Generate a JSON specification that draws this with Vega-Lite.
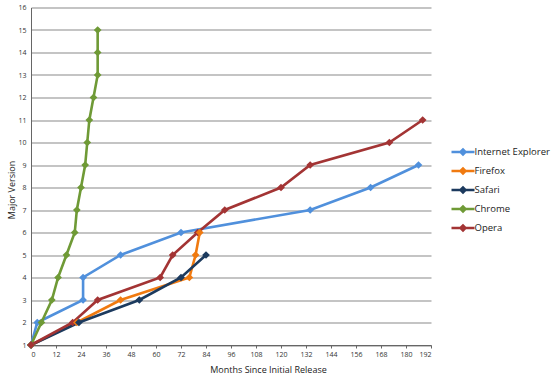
{
  "$schema": "https://vega.github.io/schema/vega-lite/v6.json",
  "width": 400,
  "height": 337.5,
  "autosize": {"type": "none"},
  "padding": {"left": 31, "top": 7.5, "right": 126, "bottom": 33},
  "config": {
    "font": "Open Sans",
    "view": {"stroke": null},
    "axis": {"labelFont": "Open Sans", "titleFont": "Open Sans", "titleFontWeight": "normal", "titleColor": "#222", "labelColor": "#333"}
  },
  "data": {
    "values": [
      {"browser": "Internet Explorer", "month": 0, "version": 1},
      {"browser": "Internet Explorer", "month": 3, "version": 2},
      {"browser": "Internet Explorer", "month": 25, "version": 3},
      {"browser": "Internet Explorer", "month": 25, "version": 4},
      {"browser": "Internet Explorer", "month": 43, "version": 5},
      {"browser": "Internet Explorer", "month": 72, "version": 6},
      {"browser": "Internet Explorer", "month": 134, "version": 7},
      {"browser": "Internet Explorer", "month": 163, "version": 8},
      {"browser": "Internet Explorer", "month": 186, "version": 9},
      {"browser": "Firefox", "month": 0, "version": 1},
      {"browser": "Firefox", "month": 22, "version": 2},
      {"browser": "Firefox", "month": 43, "version": 3},
      {"browser": "Firefox", "month": 76, "version": 4},
      {"browser": "Firefox", "month": 79, "version": 5},
      {"browser": "Firefox", "month": 81, "version": 6},
      {"browser": "Safari", "month": 0, "version": 1},
      {"browser": "Safari", "month": 23, "version": 2},
      {"browser": "Safari", "month": 52, "version": 3},
      {"browser": "Safari", "month": 72, "version": 4},
      {"browser": "Safari", "month": 84, "version": 5},
      {"browser": "Chrome", "month": 0, "version": 1},
      {"browser": "Chrome", "month": 5, "version": 2},
      {"browser": "Chrome", "month": 10, "version": 3},
      {"browser": "Chrome", "month": 13, "version": 4},
      {"browser": "Chrome", "month": 17, "version": 5},
      {"browser": "Chrome", "month": 21, "version": 6},
      {"browser": "Chrome", "month": 22, "version": 7},
      {"browser": "Chrome", "month": 24, "version": 8},
      {"browser": "Chrome", "month": 26, "version": 9},
      {"browser": "Chrome", "month": 27, "version": 10},
      {"browser": "Chrome", "month": 28, "version": 11},
      {"browser": "Chrome", "month": 30, "version": 12},
      {"browser": "Chrome", "month": 32, "version": 13},
      {"browser": "Chrome", "month": 32, "version": 14},
      {"browser": "Chrome", "month": 32, "version": 15},
      {"browser": "Opera", "month": 0, "version": 1},
      {"browser": "Opera", "month": 20, "version": 2},
      {"browser": "Opera", "month": 32, "version": 3},
      {"browser": "Opera", "month": 62, "version": 4},
      {"browser": "Opera", "month": 68, "version": 5},
      {"browser": "Opera", "month": 80, "version": 6},
      {"browser": "Opera", "month": 93, "version": 7},
      {"browser": "Opera", "month": 120, "version": 8},
      {"browser": "Opera", "month": 134, "version": 9},
      {"browser": "Opera", "month": 172, "version": 10},
      {"browser": "Opera", "month": 188, "version": 11}
    ]
  },
  "encoding": {
    "x": {
      "field": "month", "type": "quantitative",
      "scale": {"domain": [0, 192], "nice": false, "zero": false},
      "axis": {
        "title": "Months Since Initial Release",
        "values": [0,12,24,36,48,60,72,84,96,108,120,132,144,156,168,180,192],
        "grid": false, "tickSize": 3, "tickColor": "#666", "domainColor": "#666",
        "labelFontSize": 7, "labelPadding": 2, "titleFontSize": 9, "titlePadding": 8,
        "titleX": 237
      }
    },
    "y": {
      "field": "version", "type": "quantitative",
      "scale": {"domain": [1, 16], "nice": false, "zero": false},
      "axis": {
        "title": "Major Version",
        "values": [1,2,3,4,5,6,7,8,9,10,11,12,13,14,15,16],
        "grid": true, "gridColor": "#8a8a8a", "gridWidth": 1.2,
        "ticks": false, "domainColor": "#666", "labelFontSize": 7, "labelPadding": 5,
        "titleFontSize": 9, "titlePadding": 1, "titleY": 182
      }
    },
    "color": {
      "field": "browser", "type": "nominal",
      "sort": ["Internet Explorer", "Firefox", "Safari", "Chrome", "Opera"],
      "scale": {
        "domain": ["Internet Explorer", "Firefox", "Safari", "Chrome", "Opera"],
        "range": ["#5090dc", "#f07a10", "#1c3a5e", "#6f9a36", "#a33434"]
      },
      "legend": {
        "title": null, "orient": "none", "legendX": 425.5, "legendY": 138,
        "labelFont": "Open Sans", "labelFontSize": 9.5, "labelColor": "#222",
        "symbolType": "M-2.3,0H2.3M-0.5,0L0,-0.5L0.5,0L0,0.5Z",
        "symbolSize": 100, "symbolStrokeWidth": 2.5, "rowPadding": 4, "labelOffset": 5
      }
    },
    "order": {"field": "month", "type": "quantitative"}
  },
  "layer": [
    {"mark": {"type": "line", "strokeWidth": 2.6}},
    {"mark": {"type": "point", "shape": "diamond", "filled": true, "size": 60, "opacity": 1}}
  ]
}
